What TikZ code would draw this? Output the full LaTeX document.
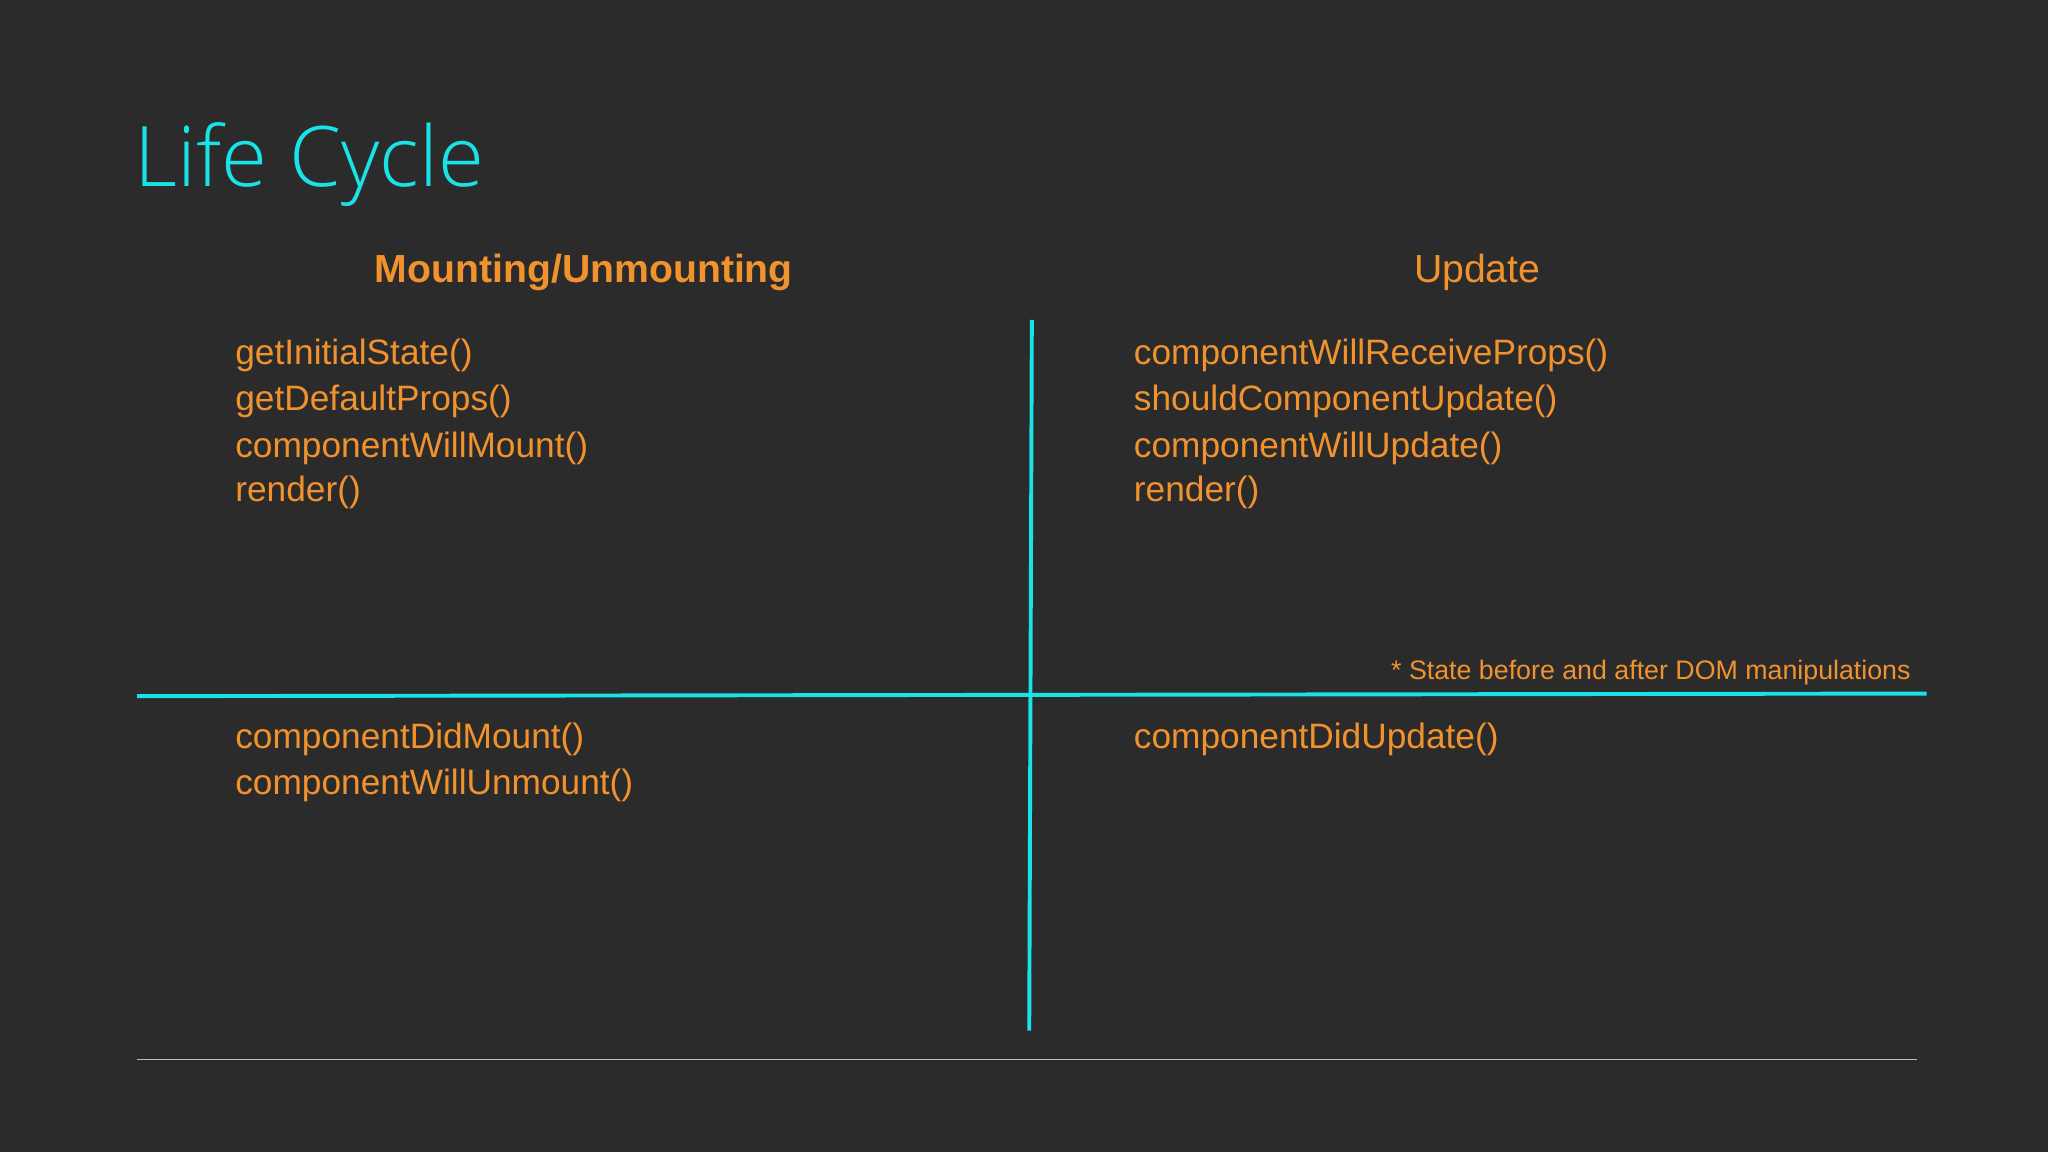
\documentclass[tikz,border=0pt]{standalone}
\usepackage{fontspec}
\setmainfont{Liberation Sans}
\newfontfamily\titlefont{Open Sans Light}
\definecolor{bg}{HTML}{2B2B2C}
\definecolor{cy}{HTML}{19E3E6}
\definecolor{orng}{HTML}{F0922E}
\definecolor{gr}{HTML}{BBBBBB}
\begin{document}
\begin{tikzpicture}[x=1pt,y=-1pt,
  item/.style={anchor=base west,inner sep=0pt,text=orng,font=\fontsize{27}{32}\selectfont},
  head/.style={anchor=base,inner sep=0pt,text=orng,font=\fontsize{30}{36}\selectfont},
  cyline/.style={draw=cy,line width=3pt}]
\fill[bg] (0,0) rectangle (1568,882);
\useasboundingbox (0,0) rectangle (1568,882);
\node[anchor=base west,inner sep=0pt,text=cy,font=\titlefont\fontsize{64}{70}\selectfont] (title) at (103,143) {Life Cycle};
\node[head,font=\bfseries\fontsize{30}{36}\selectfont] (h1) at (447,216) {Mounting/Unmounting};
\node[head] (h2) at (1131,216) {Update};
\node[item] (a1) at (180,279) {getInitialState()};
\node[item] (a2) at (180,314) {getDefaultProps()};
\node[item] (a3) at (180,350) {componentWillMount()};
\node[item] (a4) at (180,384) {render()};
\node[item] (b1) at (868,279) {componentWillReceiveProps()};
\node[item] (b2) at (868,314) {shouldComponentUpdate()};
\node[item] (b3) at (868,350) {componentWillUpdate()};
\node[item] (b4) at (868,384) {render()};
\node[item] (c1) at (180,573) {componentDidMount()};
\node[item] (c2) at (180,608) {componentWillUnmount()};
\node[item] (d1) at (868,573) {componentDidUpdate()};
\node[anchor=base east,inner sep=0pt,text=orng,font=\fontsize{20.5}{24}\selectfont] (note) at (1463,520) {* State before and after DOM manipulations};
\coordinate (hl) at (105,533); \coordinate (hr) at (1475,531);
\coordinate (vt) at (790,245); \coordinate (vb) at (788,789);
\draw[cyline] (hl) -- (hr);
\draw[cyline] (vt) -- (vb);
\coordinate (gl) at (105,811); \coordinate (gr2) at (1468,811);
\draw[gr,line width=0.8pt] (gl) -- (gr2);
\end{tikzpicture}
\end{document}
